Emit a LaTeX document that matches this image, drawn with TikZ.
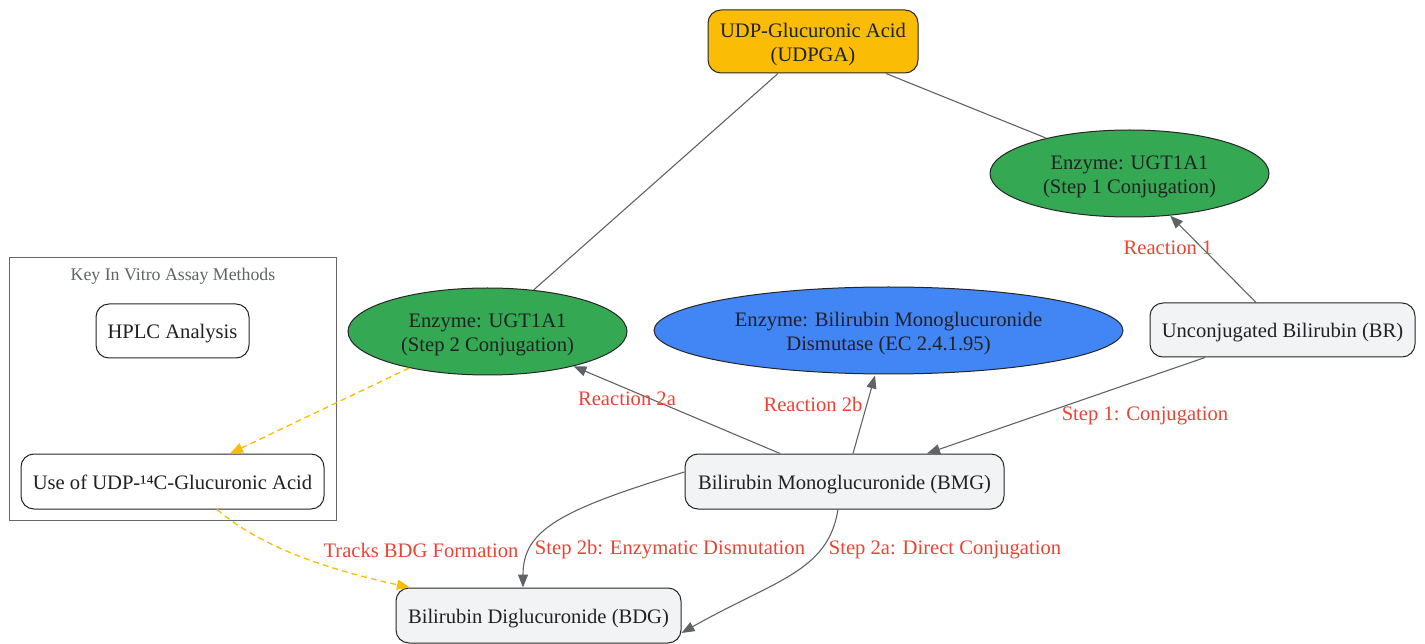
\documentclass[tikz,border=0pt]{standalone}
\usepackage{fontspec}
\setmainfont{Liberation Serif}
\usetikzlibrary{shapes.geometric,arrows.meta}
\definecolor{edgegray}{HTML}{5F6368}
\definecolor{lblred}{HTML}{EA4335}
\definecolor{txtdark}{HTML}{202124}
\definecolor{udpfill}{HTML}{FBBC05}
\definecolor{grfill}{HTML}{34A853}
\definecolor{blfill}{HTML}{4285F4}
\definecolor{boxfill}{HTML}{F1F3F4}
\definecolor{dashorange}{HTML}{FBBC05}
\newcommand{\dn}[1]{\raisebox{-3pt}[\height][\depth]{\begin{tabular}{@{}c@{}}#1\end{tabular}}}
\begin{document}
\begin{tikzpicture}[x=1pt,y=-1pt,
  every node/.style={font=\fontsize{20.6}{24}\selectfont, text=txtdark, inner sep=0pt, align=center},
  rbox/.style={draw=black!85, line width=1pt, rounded corners=13pt, fill=boxfill},
  enz/.style={ellipse, draw=black!85, line width=1pt, minimum width=279pt, minimum height=87pt},
  arr/.style={draw=edgegray, line width=1.1pt, -{Triangle[length=13pt,width=10pt]}},
  plain/.style={draw=edgegray, line width=1.1pt},
  dsh/.style={draw=dashorange, line width=1.3pt, dash pattern=on 6pt off 4pt, -{Triangle[length=13pt,width=10pt]}},
  lbl/.style={text=lblred}
]
\useasboundingbox (0,0) rectangle (1425,644);
% cluster
\node[draw=black!60, line width=1pt, minimum width=327pt, minimum height=262pt] (clu) at (172.5,389) {};
\node[font=\fontsize{17.8}{20}\selectfont, text=edgegray] (clul) at (173,276) {Key In Vitro Assay Methods};
% nodes
\node[rbox, fill=udpfill, minimum width=210pt, minimum height=63pt] (udpga) at (813,41.5) {\dn{UDP-Glucuronic Acid\\(UDPGA)}};
\node[enz, fill=grfill] (s1) at (1129.5,173.5) {\dn{Enzyme: UGT1A1\\(Step 1 Conjugation)}};
\node[enz, fill=grfill] (s2) at (487.5,331.5) {\dn{Enzyme: UGT1A1\\(Step 2 Conjugation)}};
\node[enz, fill=blfill, minimum width=469pt] (dis) at (888.5,330.5) {\dn{Enzyme: Bilirubin Monoglucuronide\\Dismutase (EC 2.4.1.95)}};
\node[rbox, minimum width=265pt, minimum height=54pt] (br) at (1282.5,330) {\dn{Unconjugated Bilirubin (BR)}};
\node[rbox, minimum width=319pt, minimum height=55pt] (bmg) at (844.5,481.5) {\dn{Bilirubin Monoglucuronide (BMG)}};
\node[rbox, minimum width=285pt, minimum height=55pt] (bdg) at (538.5,615.5) {\dn{Bilirubin Diglucuronide (BDG)}};
\node[rbox, fill=white, minimum width=153pt, minimum height=54pt] (hplc) at (172.5,331) {\dn{HPLC Analysis}};
\node[rbox, fill=white, minimum width=303pt, minimum height=55pt] (udp14) at (172.5,481.5) {\dn{Use of UDP-¹⁴C-Glucuronic Acid}};
% edges
\draw[plain] ([xshift=-35pt]udpga.south) -- (s2.42);
\draw[plain] ([xshift=73pt]udpga.south) -- (s1.157);
\draw[arr] ([xshift=-26.5pt]br.north) -- (s1.-46);
\node[lbl] (l1) at (1168,248) {Reaction 1};
\draw[arr] ([xshift=-77.5pt]br.south) -- ([xshift=82.5pt]bmg.north);
\node[lbl] (l2) at (1145,416) {Step 1: Conjugation};
\draw[arr] ([xshift=-64.5pt]bmg.north) -- (s2.-22);
\node[lbl] (l3) at (627,399) {Reaction 2a};
\draw[arr] ([xshift=8.5pt]bmg.north) -- ([xshift=-13.5pt,yshift=-1pt]dis.south);
\node[lbl] (l4) at (813,404) {Reaction 2b};
\draw[arr] ([yshift=9.5pt]bmg.west) .. controls (560,510) and (523,530) .. ([xshift=-15.5pt]bdg.north);
\node[lbl] (l5) at (670,550) {Step 2b: Enzymatic Dismutation};
\draw[arr] ([xshift=-6.5pt]bmg.south) .. controls (828,572) and (775,580) .. ([yshift=-17.5pt]bdg.east);
\node[lbl] (l6) at (945,550) {Step 2a: Direct Conjugation};
\draw[dsh] (s2.205) -- ([xshift=57.5pt]udp14.north);
\draw[dsh] ([xshift=44.5pt]udp14.south) .. controls (262,548) and (330,570) .. ([xshift=-128.5pt]bdg.north);
\node[lbl] (l7) at (421,550) {Tracks BDG Formation};
\end{tikzpicture}
\end{document}
